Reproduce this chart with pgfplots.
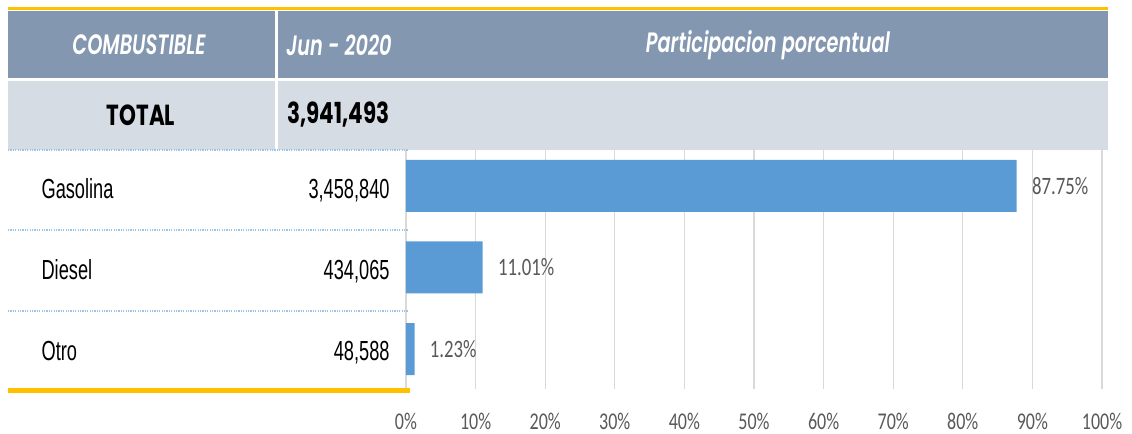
\documentclass[border=0pt]{standalone}
\usepackage{fontspec}
\usepackage{pgfplots}
\pgfplotsset{compat=1.18}
\setmainfont{Liberation Sans}
\newfontfamily\rowfont[FakeStretch=0.66]{Liberation Sans}
\newfontfamily\tickfont[FakeStretch=0.75]{Carlito}
\newfontfamily\headfont[FakeStretch=0.69, BoldFont={Poppins SemiBold},
  BoldItalicFont={Poppins SemiBold Italic}]{Poppins}
\newfontfamily\totfont[FakeStretch=0.74]{Poppins}
\definecolor{headc}{RGB}{132,151,176}
\definecolor{totc}{RGB}{214,220,228}
\definecolor{barc}{RGB}{91,155,213}
\definecolor{yel}{RGB}{255,192,0}
\definecolor{gridc}{RGB}{217,217,217}
\definecolor{labc}{RGB}{89,89,89}
\definecolor{dotc}{RGB}{157,195,230}

\begin{document}
\begin{tikzpicture}
  \begin{axis}[
      xbar, width=348pt, height=119.5pt, scale only axis,
      xmin=0, xmax=100, ymin=-0.49, ymax=2.44,
      axis line style={draw=none}, major tick length=0pt,
      xtick={0,10,...,100},
      xticklabels={0\%,10\%,20\%,30\%,40\%,50\%,60\%,70\%,80\%,90\%,100\%},
      xticklabel style={font=\tickfont\fontsize{12pt}{14pt}\selectfont, text=labc,
                        anchor=north, inner sep=0pt, yshift=-12pt},
      xmajorgrids, grid style={gridc, line width=0.6pt},
      ytick={0,1,2},
      yticklabels={{\makebox[174pt][l]{Otro\hfill 48,588}},
                   {\makebox[174pt][l]{Diesel\hfill 434,065}},
                   {\makebox[174pt][l]{Gasolina\hfill 3,458,840}}},
      yticklabel style={font=\rowfont\fontsize{13.8pt}{16pt}\selectfont,
                        anchor=east, inner sep=0pt, xshift=-8pt, yshift=-2pt},
      bar width=26pt,
      /pgf/number format/assume math mode=true,
      nodes near coords={\pgfmathprintnumber[fixed,fixed zerofill,precision=2]{\pgfplotspointmeta}\%},
      every node near coord/.append style={font=\tickfont\fontsize{12.5pt}{14pt}\selectfont,
                        text=labc, anchor=west, inner sep=0pt, xshift=7.5pt},
      clip=false,
    ]
    \addplot[fill=barc, draw=none] coordinates {(87.75,2) (11.01,1) (1.23,0)};
    \coordinate (O) at (rel axis cs:0,0);
  \end{axis}
  % table decorations, in pixel units of the reference (origin top left)
  \begin{scope}[shift={(O)}, xshift=-203pt, yshift=194.5pt, x=0.5pt, y=-0.5pt]
    \path (0,0) rectangle (1132,434);
    \fill[yel] (8,7) rectangle (1108,10);
    \fill[headc] (8,11) rectangle (1108,78);
    \fill[totc] (8,81) rectangle (1108,150);
    \fill[white] (275,11) rectangle (278,150);
    \foreach \yy in {150,230,311}
      \draw[dotc, line width=0.6pt, dash pattern=on 0.6pt off 0.6pt] (8,\yy) -- (408,\yy);
    \fill[yel] (8,388) rectangle (410,393);
    \begin{scope}[every node/.style={inner sep=0pt, text=white,
                  font=\headfont\fontsize{14pt}{16pt}\selectfont\bfseries\itshape}]
      \node at (139,45) {COMBUSTIBLE};
      \node[anchor=west] at (286,45) {Jun - 2020};
      \node at (768,45) {Participacion porcentual};
    \end{scope}
    \begin{scope}[every node/.style={inner sep=0pt, text=black,
                  font=\totfont\fontsize{14.5pt}{16pt}\selectfont\bfseries}]
      \node at (141,115) {TOTAL};
      \node[anchor=west] at (287,115) {3,941,493};
    \end{scope}
  \end{scope}
\end{tikzpicture}
\end{document}
